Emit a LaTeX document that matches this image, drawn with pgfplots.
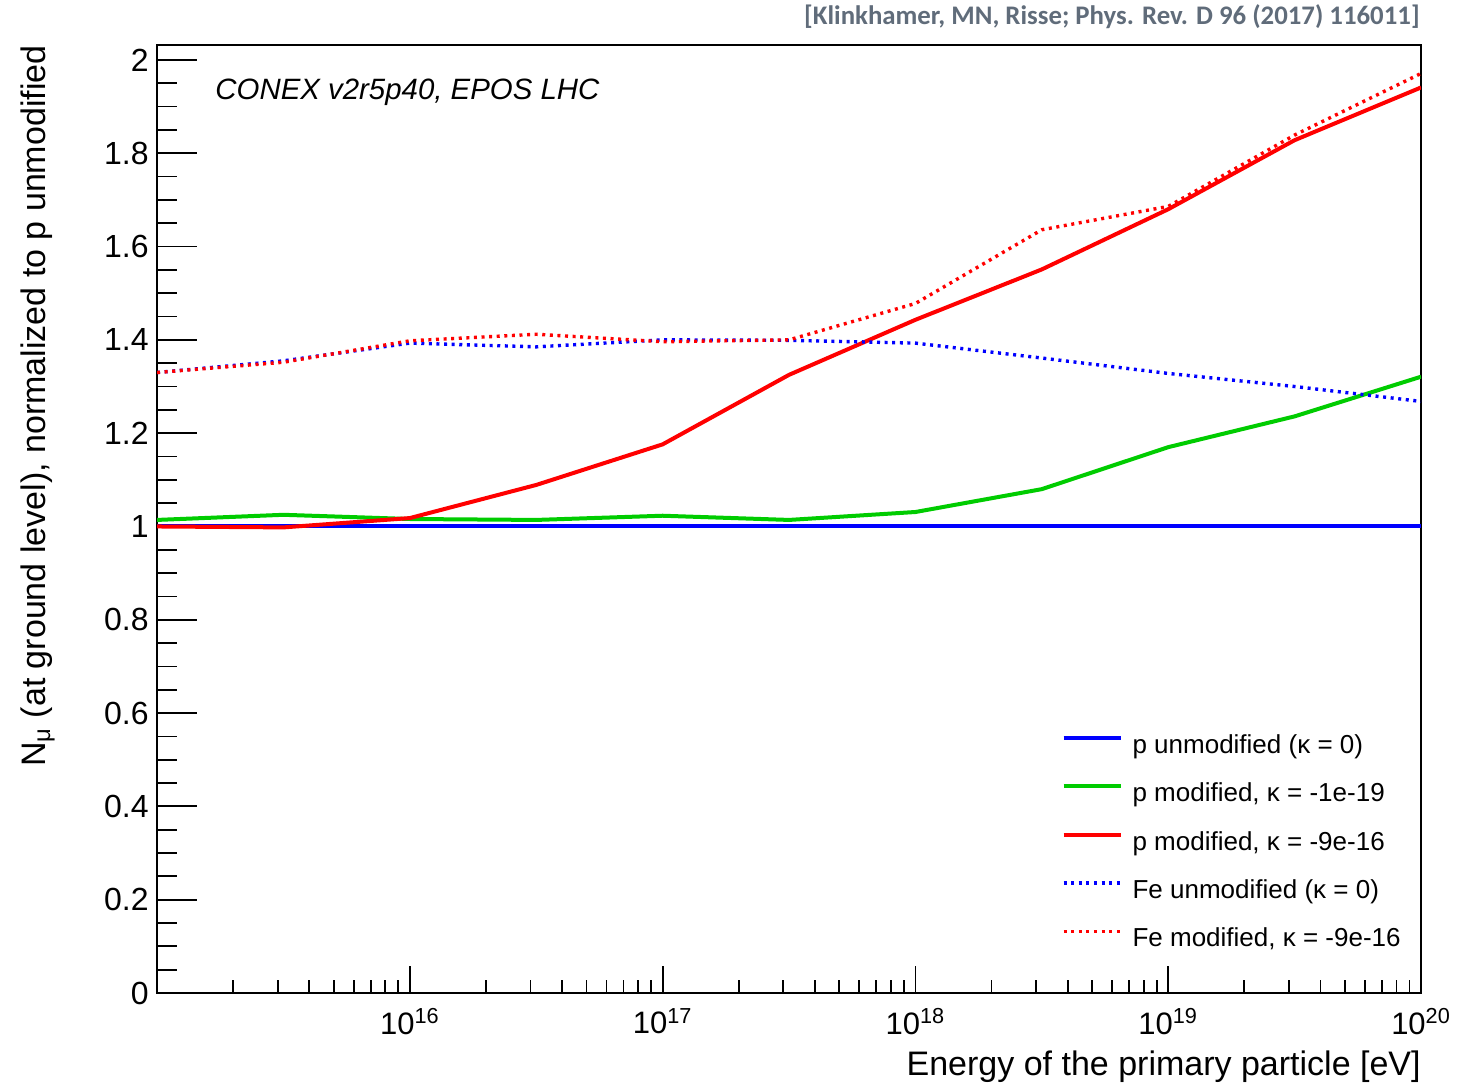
\documentclass[border=0pt]{standalone}
\usepackage{pgfplots}
\pgfplotsset{compat=1.18}
\usepackage{fontspec}
\setmainfont{Liberation Sans}
\newfontfamily\carlito{Carlito}
\definecolor{rootgreen}{RGB}{0,204,0}
\definecolor{rootblue}{RGB}{0,0,255}
\definecolor{rootred}{RGB}{255,0,0}
\definecolor{citegray}{RGB}{96,108,122}

\begin{document}
\begin{tikzpicture}
\useasboundingbox (-78.5pt,-45pt) rectangle (650pt,496.5pt);
\begin{axis}[
  at={(0,0)}, anchor=south west,
  scale only axis, width=632pt, height=474pt,
  xmode=log, xmin=1e15, xmax=1e20, ymin=0, ymax=2.032,
  axis line style={line width=1.2pt},
  tick pos=left, tick align=inside,
  tick style={line width=0.9pt, black},
  xtick={1e15,1e16,1e17,1e18,1e19,1e20},
  xticklabels={,10\textsuperscript{16},10\textsuperscript{17},10\textsuperscript{18},10\textsuperscript{19},10\textsuperscript{20}},
  minor xtick={2e15,3e15,4e15,5e15,6e15,7e15,8e15,9e15,
               2e16,3e16,4e16,5e16,6e16,7e16,8e16,9e16,
               2e17,3e17,4e17,5e17,6e17,7e17,8e17,9e17,
               2e18,3e18,4e18,5e18,6e18,7e18,8e18,9e18,
               2e19,3e19,4e19,5e19,6e19,7e19,8e19,9e19},
  ytick={0,0.2,0.4,0.6,0.8,1,1.2,1.4,1.6,1.8,2},
  minor y tick num=3,
  major x tick style={/pgfplots/major tick length=13.5pt},
  minor x tick style={/pgfplots/minor tick length=6.5pt},
  major y tick style={/pgfplots/major tick length=20pt},
  minor y tick style={/pgfplots/minor tick length=10pt},
  /pgf/number format/assume math mode=true,
  yticklabel style={font=\fontsize{16}{19}\selectfont, inner sep=0pt, xshift=-4pt},
  xticklabel style={font=\fontsize{15.5}{18}\selectfont, inner sep=0pt, yshift=-7.5pt},
  xlabel={Energy of the primary particle [eV]},
  xlabel style={font=\fontsize{17}{20}\selectfont, inner sep=0pt, at={(axis description cs:1,-0.0865)}, anchor=base east},
  ylabel={N\textsubscript{μ} (at ground level), normalized to p unmodified},
  ylabel style={font=\fontsize{17}{20}\selectfont, inner sep=0pt, at={(axis description cs:-0.0886,1)}, anchor=base east},
  legend cell align=left,
  legend style={at={(axis description cs:0.7156,0.2728)}, anchor=north west, draw=none, fill=none,
    inner sep=0pt, outer sep=0pt, font=\fontsize{13}{15}\selectfont,
    row sep=12pt, nodes={inner sep=0pt, text height=9.5pt, text depth=2.7pt}},
  legend image code/.code={\draw[#1] (0pt,4.3pt) -- (28.5pt,4.3pt);},
  every axis legend/.append style={column sep=5pt},
  solidline/.style={line width=2pt},
  dotline/.style={line width=1.7pt, dash pattern=on 1.5pt off 2.3pt},
]
\addplot[rootblue, solidline] coordinates {
 (1e15,1.0) (3.1623e15,1.0) (1e16,1.0) (3.1623e16,1.0) (1e17,1.0) (3.1623e17,1.0)
 (1e18,1.0) (3.1623e18,1.0) (1e19,1.0) (3.1623e19,1.0) (1e20,1.0)};
\addlegendentry{p unmodified (κ = 0)}
\addplot[rootgreen, solidline] coordinates {
 (1e15,1.014) (3.1623e15,1.025) (1e16,1.016) (3.1623e16,1.014) (1e17,1.023) (3.1623e17,1.014)
 (1e18,1.031) (3.1623e18,1.080) (1e19,1.170) (3.1623e19,1.236) (1e20,1.321)};
\addlegendentry{p modified, κ = -1e-19}
\addplot[rootred, solidline] coordinates {
 (1e15,1.000) (3.1623e15,0.998) (1e16,1.018) (3.1623e16,1.089) (1e17,1.176) (3.1623e17,1.325)
 (1e18,1.443) (3.1623e18,1.551) (1e19,1.680) (3.1623e19,1.828) (1e20,1.941)};
\addlegendentry{p modified, κ = -9e-16}
\addplot[rootblue, dotline] coordinates {
 (1e15,1.330) (3.1623e15,1.355) (1e16,1.393) (3.1623e16,1.385) (1e17,1.400) (3.1623e17,1.399)
 (1e18,1.393) (3.1623e18,1.361) (1e19,1.328) (3.1623e19,1.300) (1e20,1.268)};
\addlegendentry{Fe unmodified (κ = 0)}
\addplot[rootred, dotline] coordinates {
 (1e15,1.330) (3.1623e15,1.352) (1e16,1.398) (3.1623e16,1.412) (1e17,1.396) (3.1623e17,1.400)
 (1e18,1.478) (3.1623e18,1.636) (1e19,1.686) (3.1623e19,1.839) (1e20,1.971)};
\addlegendentry{Fe modified, κ = -9e-16}
\node[anchor=base west, font=\fontsize{14.7}{17}\selectfont\itshape, inner sep=0pt]
  at (axis description cs:0.0459,0.943) {CONEX v2r5p40, EPOS LHC};
\end{axis}
\node[anchor=base east, font=\fontsize{13.4}{15}\selectfont\carlito\bfseries, text=citegray, inner sep=0pt]
  at (631.5pt,484pt) {[Klinkhamer, MN, Risse; Phys. Rev. D 96 (2017) 116011]};
\end{tikzpicture}
\end{document}
